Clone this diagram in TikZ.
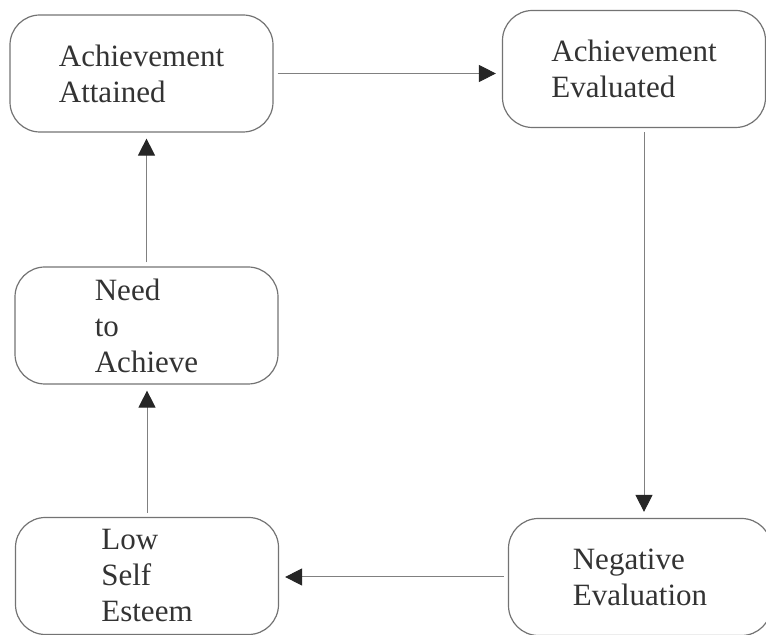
\documentclass[tikz,border=0pt]{standalone}
\usepackage{fontspec}
\setmainfont{Liberation Serif}
\usetikzlibrary{arrows.meta}

\tikzset{
  stage/.style={draw=black!55, line width=0.6pt, rounded corners=15pt,
    minimum width=131.5pt, minimum height=58.5pt, inner sep=0pt,
    align=left, text=black!80, font=\fontsize{15.5}{18}\selectfont},
  flow/.style={draw=black!50, line width=0.5pt,
    -{Triangle[length=8.5pt,width=8.5pt,color=black!85]},
    shorten <=2pt, shorten >=3pt}
}

\begin{document}
\begin{tikzpicture}[x=0.5pt,y=-0.5pt]
\useasboundingbox (0,0) rectangle (766,635);
% the five stages
\node[stage] (attained) at (141.5,73.5) {Achievement\\Attained};
\node[stage] (evaluated) at (634,69) {Achievement\\Evaluated};
\node[stage] (need) at (146.5,325.5) {Need\\to\\Achieve};
\node[stage] (lowself) at (147,576) {Low\\Self\\Esteem};
\node[stage] (negative) at (640,577) {Negative\\Evaluation};
% the cycle
\draw[flow] (attained.east) -- (attained.east -| evaluated.west);
\draw[flow] ([xshift=5pt]evaluated.south) -- ([xshift=5pt]evaluated.south |- negative.north);
\draw[flow] (negative.west) -- (negative.west -| lowself.east);
\draw[flow] (lowself.north) -- (lowself.north |- need.south);
\draw[flow] (need.north) -- (need.north |- attained.south);
\end{tikzpicture}
\end{document}
